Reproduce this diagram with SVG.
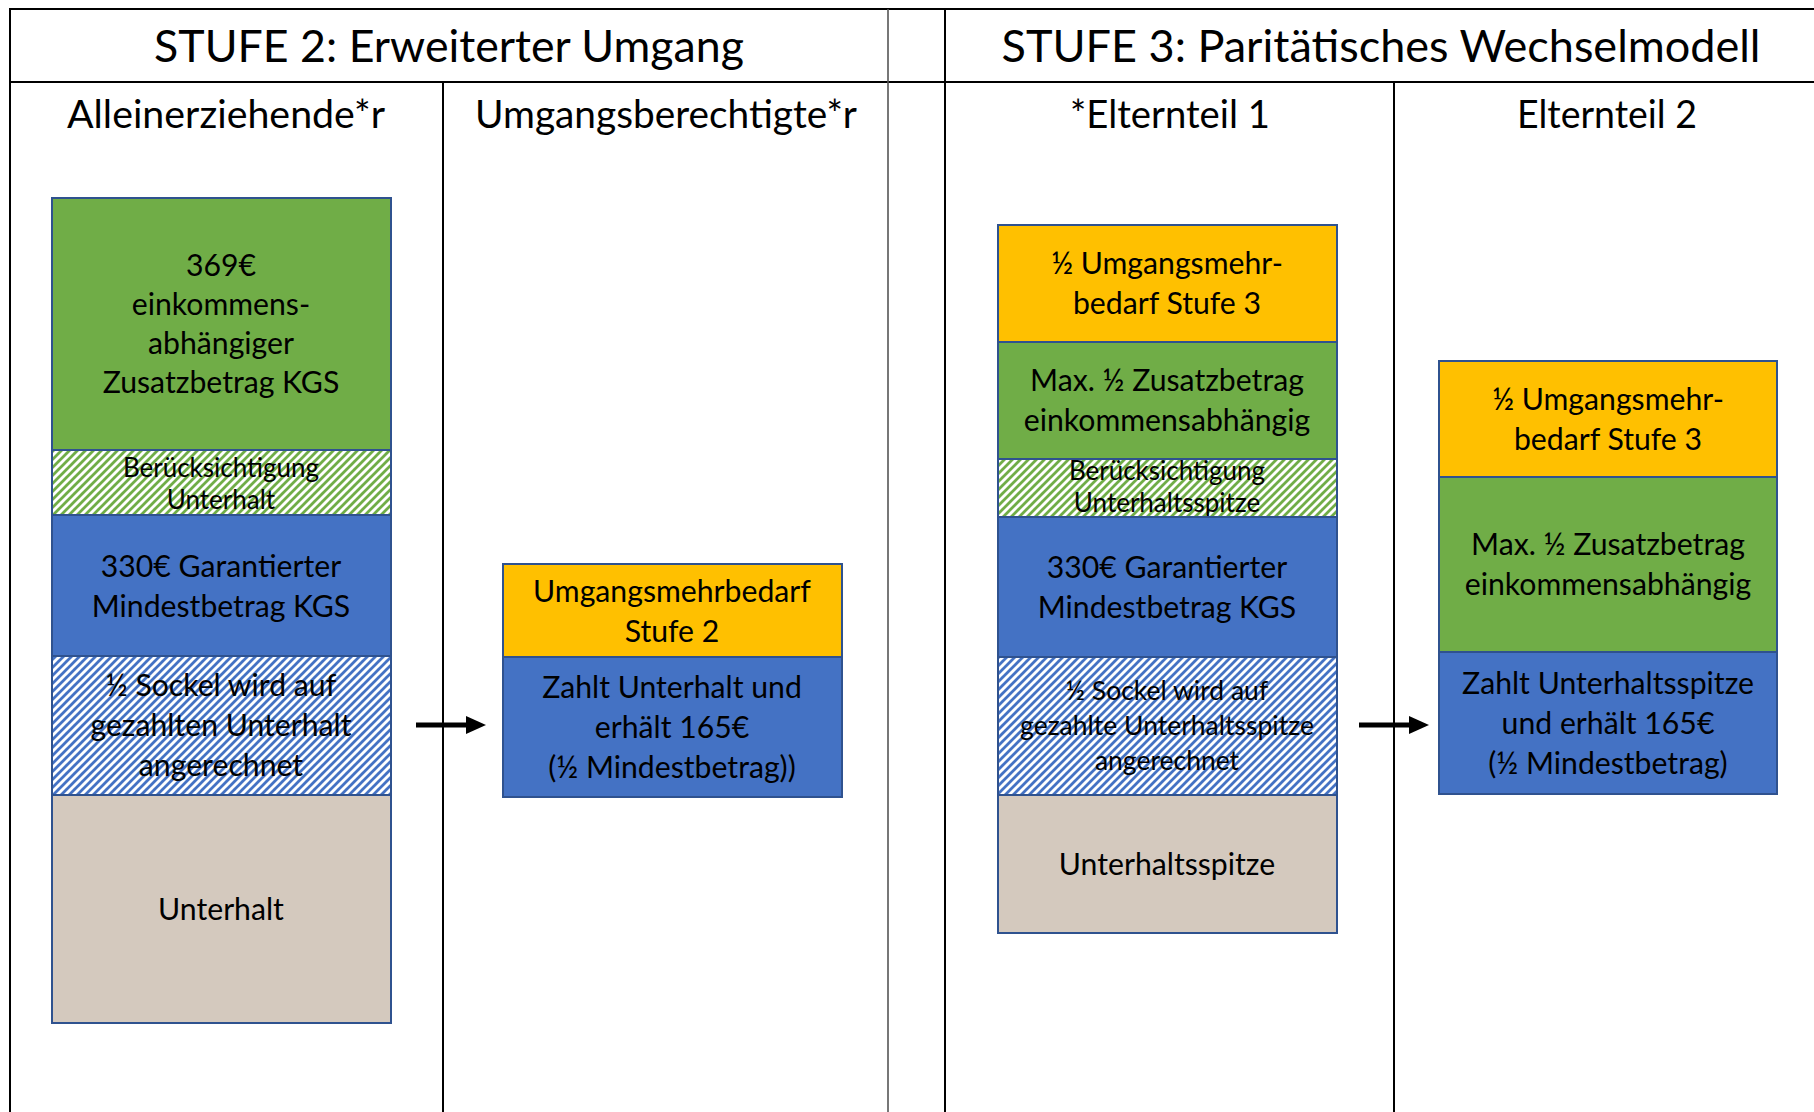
<svg xmlns="http://www.w3.org/2000/svg" width="1814" height="1112" viewBox="0 0 1814 1112">
<style>
text{font-family:Lato,"Noto Sans",sans-serif;fill:#000;text-anchor:middle}
.h{font-size:45px}
.sh{font-size:38px}
.t{font-size:30.2px}
.s{font-size:26px}
.m{font-size:26.5px}
.tl{stroke:#000;stroke-width:2;fill:none}
.box{stroke:#2F528F;stroke-width:2}
.g{fill:#70AD47}
.b{fill:#4472C4}
.y{fill:#FFC000}
.be{fill:#D4C9BE}
.hg{fill:url(#hatchG)}
.hb{fill:url(#hatchB)}
.arr{stroke:#000;stroke-width:5;fill:none;marker-end:url(#ah)}
</style>
<defs>
<pattern id="hatchG" patternUnits="userSpaceOnUse" width="8" height="8">
<rect width="8" height="8" fill="#fff"/>
<path d="M-1,1 l2,-2 M0,8 l8,-8 M7,9 l2,-2" stroke="#70AD47" stroke-width="2.8"/>
</pattern>
<pattern id="hatchB" patternUnits="userSpaceOnUse" width="8" height="8">
<rect width="8" height="8" fill="#fff"/>
<path d="M-1,1 l2,-2 M0,8 l8,-8 M7,9 l2,-2" stroke="#4472C4" stroke-width="2.8"/>
</pattern>
<marker id="ah" markerUnits="userSpaceOnUse" markerWidth="20" markerHeight="18" viewBox="0 0 20 18" refX="1" refY="9" orient="auto">
<path d="M0,0 L20,9 L0,18 z" fill="#000"/>
</marker>
</defs>
<rect width="1814" height="1112" fill="#fff"/>

<g id="table">
<line class="tl" x1="10" y1="9" x2="1814" y2="9"/>
<line class="tl" x1="10" y1="82" x2="1814" y2="82"/>
<line class="tl" x1="10" y1="8" x2="10" y2="1112"/>
<line class="tl" x1="443" y1="82" x2="443" y2="1112"/>
<line class="tl" x1="888" y1="9" x2="888" y2="1112" style="stroke:#555;stroke-width:1.6"/>
<line class="tl" x1="945" y1="9" x2="945" y2="1112"/>
<line class="tl" x1="1394" y1="82" x2="1394" y2="1112"/>
<text class="h" x="449" y="62" textLength="590" lengthAdjust="spacingAndGlyphs">STUFE 2: Erweiterter Umgang</text>
<text class="h" x="1381" y="62" textLength="759" lengthAdjust="spacingAndGlyphs">STUFE 3: Paritätisches Wechselmodell</text>
<text class="sh" x="226" y="128" textLength="318" lengthAdjust="spacingAndGlyphs">Alleinerziehende*r</text>
<text class="sh" x="666" y="128" textLength="382" lengthAdjust="spacingAndGlyphs">Umgangsberechtigte*r</text>
<text class="sh" x="1170" y="128" textLength="200" lengthAdjust="spacingAndGlyphs">*Elternteil 1</text>
<text class="sh" x="1607" y="128" textLength="180" lengthAdjust="spacingAndGlyphs">Elternteil 2</text>
</g>

<g id="a-zusatz">
<rect class="box g" x="52" y="198" width="339" height="252"/>
<text class="t" x="221" y="276">369€</text>
<text class="t" x="221" y="315">einkommens-</text>
<text class="t" x="221" y="354">abhängiger</text>
<text class="t" x="221" y="393">Zusatzbetrag KGS</text>
</g>
<g id="a-beruecksichtigung">
<rect class="box hg" x="52" y="450" width="339" height="65"/>
<text class="s" x="221" y="477">Berücksichtigung</text>
<text class="s" x="221" y="509">Unterhalt</text>
</g>
<g id="a-mindest">
<rect class="box b" x="52" y="515" width="339" height="141"/>
<text class="t" x="221" y="577">330€ Garantierter</text>
<text class="t" x="221" y="617">Mindestbetrag KGS</text>
</g>
<g id="a-sockel">
<rect class="box hb" x="52" y="656" width="339" height="139"/>
<text class="t" x="221" y="696">½ Sockel wird auf</text>
<text class="t" x="221" y="736">gezahlten Unterhalt</text>
<text class="t" x="221" y="776">angerechnet</text>
</g>
<g id="a-unterhalt">
<rect class="box be" x="52" y="795" width="339" height="228"/>
<text class="t" x="221" y="920">Unterhalt</text>
</g>

<g id="u-mehrbedarf">
<rect class="box y" x="503" y="564" width="339" height="93"/>
<text class="t" x="672" y="602">Umgangsmehrbedarf</text>
<text class="t" x="672" y="642">Stufe 2</text>
</g>
<g id="u-zahlt">
<rect class="box b" x="503" y="657" width="339" height="140"/>
<text class="t" x="672" y="698">Zahlt Unterhalt und</text>
<text class="t" x="672" y="738">erhält 165€</text>
<text class="t" x="672" y="778">(½ Mindestbetrag))</text>
</g>

<g id="e1-mehrbedarf">
<rect class="box y" x="998" y="225" width="339" height="117"/>
<text class="t" x="1167" y="274">½ Umgangsmehr-</text>
<text class="t" x="1167" y="314">bedarf Stufe 3</text>
</g>
<g id="e1-zusatz">
<rect class="box g" x="998" y="342" width="339" height="117"/>
<text class="t" x="1167" y="391">Max. ½ Zusatzbetrag</text>
<text class="t" x="1167" y="431">einkommensabhängig</text>
</g>
<g id="e1-beruecksichtigung">
<rect class="box hg" x="998" y="459" width="339" height="58"/>
<text class="s" x="1167" y="480">Berücksichtigung</text>
<text class="s" x="1167" y="512">Unterhaltsspitze</text>
</g>
<g id="e1-mindest">
<rect class="box b" x="998" y="517" width="339" height="140"/>
<text class="t" x="1167" y="578">330€ Garantierter</text>
<text class="t" x="1167" y="618">Mindestbetrag KGS</text>
</g>
<g id="e1-sockel">
<rect class="box hb" x="998" y="657" width="339" height="138"/>
<text class="m" x="1167" y="700">½ Sockel wird auf</text>
<text class="m" x="1167" y="735">gezahlte Unterhaltsspitze</text>
<text class="m" x="1167" y="770">angerechnet</text>
</g>
<g id="e1-unterhaltsspitze">
<rect class="box be" x="998" y="795" width="339" height="138"/>
<text class="t" x="1167" y="875">Unterhaltsspitze</text>
</g>

<g id="e2-mehrbedarf">
<rect class="box y" x="1439" y="361" width="338" height="116"/>
<text class="t" x="1608" y="410">½ Umgangsmehr-</text>
<text class="t" x="1608" y="450">bedarf Stufe 3</text>
</g>
<g id="e2-zusatz">
<rect class="box g" x="1439" y="477" width="338" height="175"/>
<text class="t" x="1608" y="555">Max. ½ Zusatzbetrag</text>
<text class="t" x="1608" y="595">einkommensabhängig</text>
</g>
<g id="e2-zahlt">
<rect class="box b" x="1439" y="652" width="338" height="142"/>
<text class="t" x="1608" y="694">Zahlt Unterhaltsspitze</text>
<text class="t" x="1608" y="734">und erhält 165€</text>
<text class="t" x="1608" y="774">(½ Mindestbetrag)</text>
</g>

<g id="connectors">
<line class="arr" x1="416" y1="725" x2="467" y2="725"/>
<line class="arr" x1="1359" y1="725" x2="1410" y2="725"/>
</g>
</svg>
